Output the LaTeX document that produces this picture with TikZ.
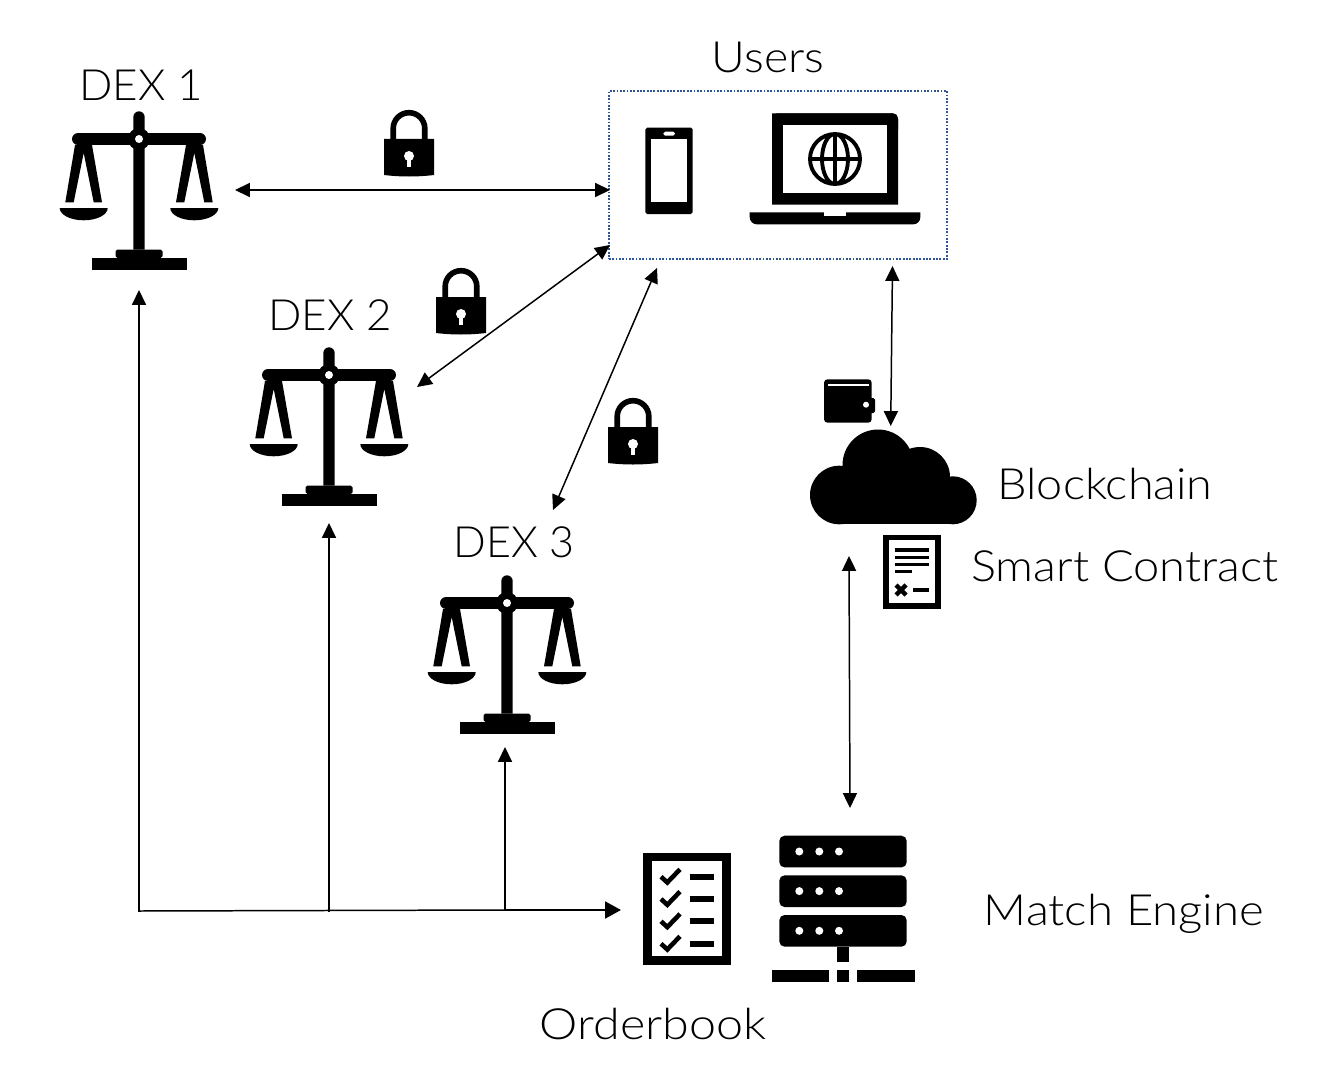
\documentclass[tikz,border=0pt]{standalone}
\usepackage{fontspec}
\setmainfont{Lato Light}
\usepackage{xcolor}
\usetikzlibrary{arrows.meta}
\definecolor{boxcolor}{RGB}{47,85,151}
\tikzset{
    wordtext/.style={font=\fontsize{24.5}{28}\selectfont\addfontfeature{FakeStretch=#1}, inner sep=0pt},
    link/.style={line width=0.85pt, {Triangle[length=8.5pt,width=8pt]}-{Triangle[length=8.5pt,width=8pt]}},
    uplink/.style={line width=0.85pt, line cap=rect, -{Triangle[length=8.5pt,width=8pt]}},
    feedlink/.style={line width=1.4pt, -{Triangle[length=9pt,width=9.5pt]}},
    usersbox/.style={draw=boxcolor, line width=1pt, dash pattern=on 1pt off 0.9pt, minimum width=192.4pt, minimum height=95.6pt, inner sep=0pt},
    scales/.pic={
        \fill (-5.7,110.7) -- (-5.7,-22) arc (180:360:5.7) -- (5.7,110.7) -- cycle;
        \draw[line width=6.8pt, line cap=round] (-61,0) -- (61,0);
        \fill (0,0) circle (11);
        \fill[rounded corners=1pt] (-23.5,119) -- (-23.5,110.7) -- (23.5,110.7) -- (23.5,119) -- cycle;
        \fill (-47.5,119) rectangle (47.5,130.7);
        \foreach \s in {-1,1}
        {
            \fill[xscale=\s] (64,6) -- (73.7,63.3) -- (65.3,63.3) -- (55.3,14) -- (45.3,63.3) -- (37,63.3) -- (47,6) -- cycle;
            \fill[xscale=\s] (31.3,69) arc (180:0:24 and 12.3) -- cycle;
        }
        \fill[white] (0,0) circle (4);
    },
    lockicon/.pic={
        \draw[line width=3.2pt] (-15.8,-17) -- (-15.8,-27.5) arc (180:360:15.8) -- (15.8,-17);
        \fill (-25,-17) -- (25,-17) -- (25,19) .. controls (8,21) and (-8,21) .. (-25,19) -- cycle;
        \fill[white] (0,0) circle (5);
        \fill[white] (-1.8,0) rectangle (1.8,10.5);
    },
}
\begin{document}
\begin{tikzpicture}[x=0.02cm,y=-0.02cm]
    \useasboundingbox (0,0) rectangle (1332,1088);

    \pic (dexa) at (139,139) {scales};
    \pic (dexb) at (329,375) {scales};
    \pic (dexc) at (507,603) {scales};
    \node[wordtext=1.02] (dexalabel) at (141,85) {DEX 1};
    \node[wordtext=1.02] (dexblabel) at (330,315) {DEX 2};
    \node[wordtext=1] (dexclabel) at (514,542) {DEX 3};
    \pic (locka) at (409,156) {lockicon};
    \pic (lockb) at (461,314) {lockicon};
    \pic (lockc) at (633,444) {lockicon};

    \node[wordtext=1.08] (userslabel) at (768,57) {Users};
    \node[usersbox] (users) at (778,175) {};
    \fill[rounded corners=1pt] (645.3,127.7) rectangle (692.7,214);
    \fill[white] (651,139.3) rectangle (687,202.3);
    \fill[white, rounded corners=1pt] (663.3,131.7) rectangle (675,135.7);
    \fill (772,204.7) -- (772,113.3) [rounded corners=3pt] -- (898,113.3) [sharp corners] -- (898,204.7) -- cycle;
    \fill[rounded corners=3pt] (772,113.3) rectangle (898,135);
    \fill[white] (783,125.3) rectangle (887,192.7);
    \draw[line width=2.2pt] (835,159) circle (25) (835,159) ellipse (13 and 25) (835,134) -- (835,184) (810,159) -- (860,159);
    \fill (749.7,212.3) -- (920.3,212.3) [rounded corners=4pt] -- (920.3,224.3) -- (749.7,224.3) [sharp corners] -- cycle;
    \fill[white] (824,212.3) rectangle (846,216.3);

    \fill[rounded corners=2pt] (824,379.3) rectangle (871.7,422.7);
    \fill[rounded corners=1pt] (860,398) rectangle (875,413);
    \draw[white, line width=1pt] (828,384.7) -- (869,384.7);
    \fill[white] (866,404.7) circle (3);

    \fill (839.3,495) circle (29.3) (878,465) circle (35.5) (920,477) circle (30) (952.7,500.3) circle (24);
    \fill (839.3,480) rectangle (952.7,524.3);

    \node[wordtext=1.087] (chainlabel) at (1105,484) {Blockchain};
    \node[wordtext=1.093] (contractlabel) at (1125,566) {Smart Contract};
    \fill (883.3,535) rectangle (940.7,608.7);
    \fill[white] (888.7,540.3) rectangle (935,602.7);
    \foreach \y in {550,557.3,564.3}
        \draw[line width=1.9pt] (894.7,\y) -- (929.3,\y);
    \draw[line width=1.9pt] (894.7,571.7) -- (912,571.7);
    \draw[line width=2.5pt] (896,585) -- (906,595) (906,585) -- (896,595);
    \draw[line width=1.9pt] (913.3,590) -- (929.3,590);

    \fill (643.3,852.7) rectangle (730.7,964.7);
    \fill[white] (652,861.3) rectangle (722,956);
    \foreach \y in {876.7,899,921.3,943.7}
    {
        \draw[line width=2.6pt] (661,\y) -- (667.3,\y+5.8) -- (680,\y-7.4);
        \draw[line width=3.2pt] (689.7,\y) -- (713.7,\y);
    }
    \node[wordtext=1.125] (booklabel) at (653,1024) {Orderbook};

    \foreach \y in {835.7,875.3,915}
    {
        \fill[rounded corners=3pt] (779.3,\y) rectangle (906.7,\y+31.7);
        \foreach \x in {799.3,819.3,839}
            \fill[white] (\x,\y+15.8) circle (4);
    }
    \fill (837,946.7) rectangle (849,962.3);
    \fill (771.7,970.3) rectangle (829.3,982.3);
    \fill (837,970.3) rectangle (849,982.3);
    \fill (857,970.3) rectangle (914.7,982.3);
    \node[wordtext=1.1] (enginelabel) at (1124,914) {Match Engine};

    \coordinate (dexaend) at (235,190);
    \coordinate (usersa) at (610,190);
    \coordinate (dexbend) at (417,387);
    \coordinate (usersb) at (610,245);
    \coordinate (dexcend) at (553,510);
    \coordinate (usersc) at (657,268);
    \coordinate (usersd) at (892.5,266);
    \coordinate (cloudtop) at (890.7,426);
    \coordinate (cloudbottom) at (849,556);
    \coordinate (servertop) at (850,808);
    \draw[link] (dexaend) -- (usersa);
    \draw[link] (dexbend) -- (usersb);
    \draw[link] (dexcend) -- (usersc);
    \draw[link] (usersd) -- (cloudtop);
    \draw[link] (cloudbottom) -- (servertop);

    \coordinate (busa) at (139,911);
    \coordinate (busb) at (329,911);
    \coordinate (busc) at (505,910);
    \coordinate (bookend) at (621,910);
    \coordinate (dexafoot) at (139,290);
    \coordinate (dexbfoot) at (329,523);
    \coordinate (dexcfoot) at (505,747);
    \draw[line width=0.85pt, line cap=rect] (busa) -- (busc);
    \draw[uplink] (busa) -- (dexafoot);
    \draw[uplink] (busb) -- (dexbfoot);
    \draw[uplink] (busc) -- (dexcfoot);
    \draw[feedlink] (busc) -- (bookend);
\end{tikzpicture}
\end{document}
